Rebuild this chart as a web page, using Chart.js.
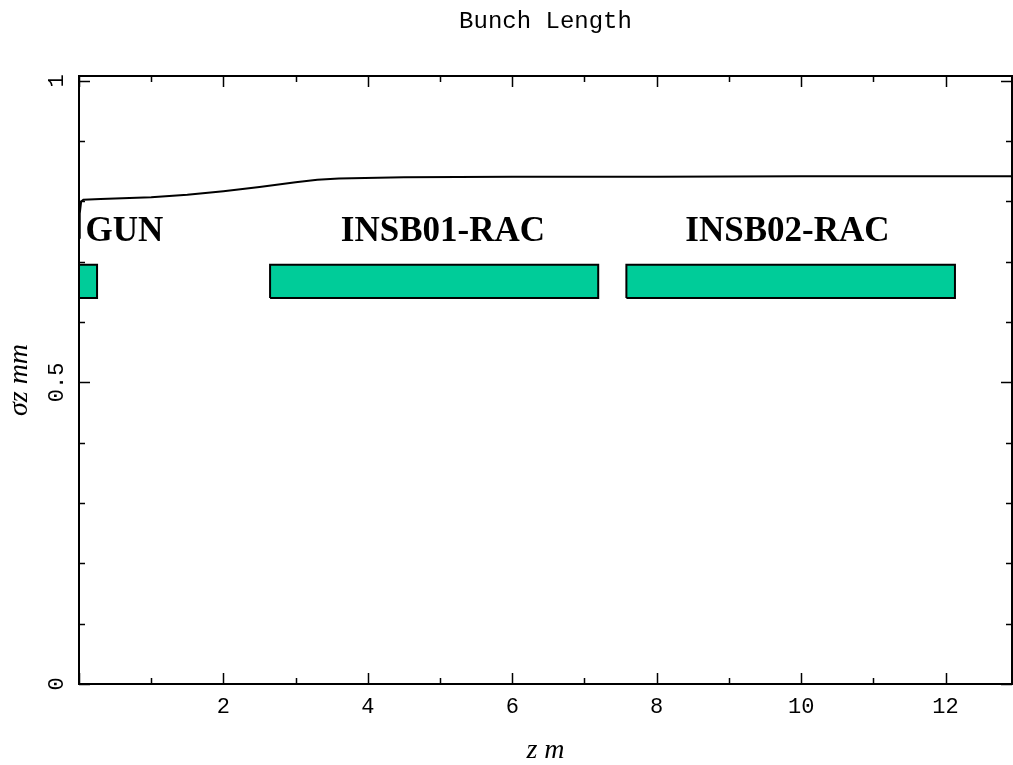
<!DOCTYPE html>
<html>
<head>
<meta charset="utf-8">
<script src="https://cdn.jsdelivr.net/npm/chart.js@4/dist/chart.umd.min.js"></script>
<style>
html,body{margin:0;padding:0;background:#fff;}
#wrap{width:1013px;height:765px;position:relative;}
</style>
</head>
<body>
<div id="wrap"><canvas id="c" width="1013" height="765"></canvas></div>
<script>
// Bunch length curve (z in m, sigma_z in mm)
const zValues     = [0, 0.01, 0.03, 0.06, 0.3, 1.0, 1.5, 2.0, 2.5, 3.0, 3.3, 3.6, 4.5, 6, 8, 10, 12.94];
const sigmaValues = [0.74, 0.78, 0.80, 0.803, 0.804, 0.807, 0.811, 0.817, 0.824, 0.832, 0.836, 0.838, 0.840, 0.841, 0.841, 0.842, 0.842];

// Beamline elements
const boxNames  = ['GUN', 'INSB01-RAC', 'INSB02-RAC'];
const boxStart  = [0, 2.646, 7.58];
const boxEnd    = [0.25, 7.19, 12.13];
const boxBottom = [0.640, 0.640, 0.640];
const boxTop    = [0.695, 0.695, 0.695];
const labelZ    = [0.63, 5.04, 9.81];
const labelSigma = [0.735, 0.735, 0.735];

// Axis ranges and labelled ticks
const xRange = [0, 12.92];
const yRange = [0, 1.008];
const xTickLabels = [2, 4, 6, 8, 10, 12];
const yTickLabels = ['0', '0.5', '1'];

const curve = zValues.map((z, i) => ({x: z, y: sigmaValues[i]}));
const boxDatasets = boxNames.map((n, i) => ({
  label: n,
  data: [
    {x: boxStart[i], y: boxBottom[i]},
    {x: boxEnd[i], y: boxBottom[i]},
    {x: boxEnd[i], y: boxTop[i]},
    {x: boxStart[i], y: boxTop[i]},
    {x: boxStart[i], y: boxBottom[i]}
  ],
  borderColor: '#000',
  borderWidth: 2,
  backgroundColor: '#00cc99',
  fill: 'shape',
  pointRadius: 0,
  tension: 0
}));

const framePlugin = {
  id: 'frameTicks',
  afterDatasetsDraw(chart) {
    const ctx = chart.ctx, a = chart.chartArea;
    const xs = chart.scales.x, ys = chart.scales.y;
    ctx.save();
    // element labels
    ctx.fillStyle = '#000';
    ctx.font = 'bold 35px "Liberation Serif", "Times New Roman", serif';
    ctx.textAlign = 'center';
    ctx.textBaseline = 'alphabetic';
    boxNames.forEach((n, i) => {
      ctx.fillText(n, xs.getPixelForValue(labelZ[i]), ys.getPixelForValue(labelSigma[i]));
    });
    // frame
    ctx.strokeStyle = '#000';
    ctx.lineWidth = 2;
    ctx.strokeRect(a.left, a.top, a.right - a.left, a.bottom - a.top);
    // inward ticks
    ctx.lineWidth = 1.5;
    ctx.beginPath();
    xs.ticks.forEach(t => {
      const px = Math.round(xs.getPixelForValue(t.value)) + 0.5;
      const major = Math.abs(t.value % 2) < 1e-6;
      const L = major ? 11 : 6;
      ctx.moveTo(px, a.bottom); ctx.lineTo(px, a.bottom - L);
      ctx.moveTo(px, a.top); ctx.lineTo(px, a.top + L);
    });
    ys.ticks.forEach(t => {
      const py = Math.round(ys.getPixelForValue(t.value)) + 0.5;
      const r = Math.round(t.value * 10);
      const major = (r % 5) === 0;
      const L = major ? 11 : 6;
      ctx.moveTo(a.left, py); ctx.lineTo(a.left + L, py);
      ctx.moveTo(a.right, py); ctx.lineTo(a.right - L, py);
    });
    ctx.stroke();
    ctx.restore();
  }
};

new Chart(document.getElementById('c'), {
  type: 'line',
  data: {
    datasets: [
      {label: 'sigma z', data: curve, borderColor: '#000', borderWidth: 2, pointRadius: 0, fill: false, tension: 0},
      ...boxDatasets
    ]
  },
  options: {
    responsive: false,
    animation: false,
    events: [],
    layout: {padding: {left: 0, right: 1, top: 0, bottom: 0}},
    plugins: {
      legend: {display: false},
      tooltip: {enabled: false},
      title: {
        display: true,
        text: 'Bunch Length',
        fullSize: false,
        color: '#000',
        font: {family: '"Liberation Mono", "Courier New", monospace', size: 24, weight: 'normal', lineHeight: 1.2},
        padding: {top: 7.2, bottom: 40}
      }
    },
    scales: {
      x: {
        type: 'linear',
        min: xRange[0], max: xRange[1],
        grid: {display: false, drawTicks: false, tickLength: 0},
        border: {display: false},
        ticks: {
          stepSize: 1, autoSkip: false, includeBounds: false,
          maxRotation: 0, minRotation: 0,
          padding: 10,
          color: '#000',
          font: {family: '"Liberation Mono", "Courier New", monospace', size: 22},
          callback: v => xTickLabels.includes(Math.round(v)) && Math.abs(v - Math.round(v)) < 1e-6 ? String(Math.round(v)) : ''
        },
        title: {
          display: true, text: 'z m', color: '#000',
          font: {family: '"Liberation Serif", "Times New Roman", serif', style: 'italic', size: 28, lineHeight: 1},
          padding: {top: 0, bottom: 0}
        },
        afterFit: s => { s.height = 81; }
      },
      y: {
        type: 'linear',
        min: yRange[0], max: yRange[1],
        grid: {display: false, drawTicks: false, tickLength: 0},
        border: {display: false},
        ticks: {
          stepSize: 0.1, autoSkip: false, includeBounds: false,
          minRotation: 90, maxRotation: 90,
          crossAlign: 'center',
          padding: 2,
          color: '#000',
          font: {family: '"Liberation Mono", "Courier New", monospace', size: 22},
          callback: v => {
            const r = Math.round(v * 10);
            if (r === 0) return yTickLabels[0];
            if (r === 5) return yTickLabels[1];
            if (r === 10) return yTickLabels[2];
            return '';
          }
        },
        title: {
          display: true, text: 'σz mm', color: '#000',
          font: {family: '"Liberation Serif", "Times New Roman", serif', style: 'italic', size: 28, lineHeight: 1},
          padding: {top: 6, bottom: 0}
        },
        afterFit: s => { s.width = 79; }
      }
    }
  },
  plugins: [framePlugin]
});
</script>
</body>
</html>
